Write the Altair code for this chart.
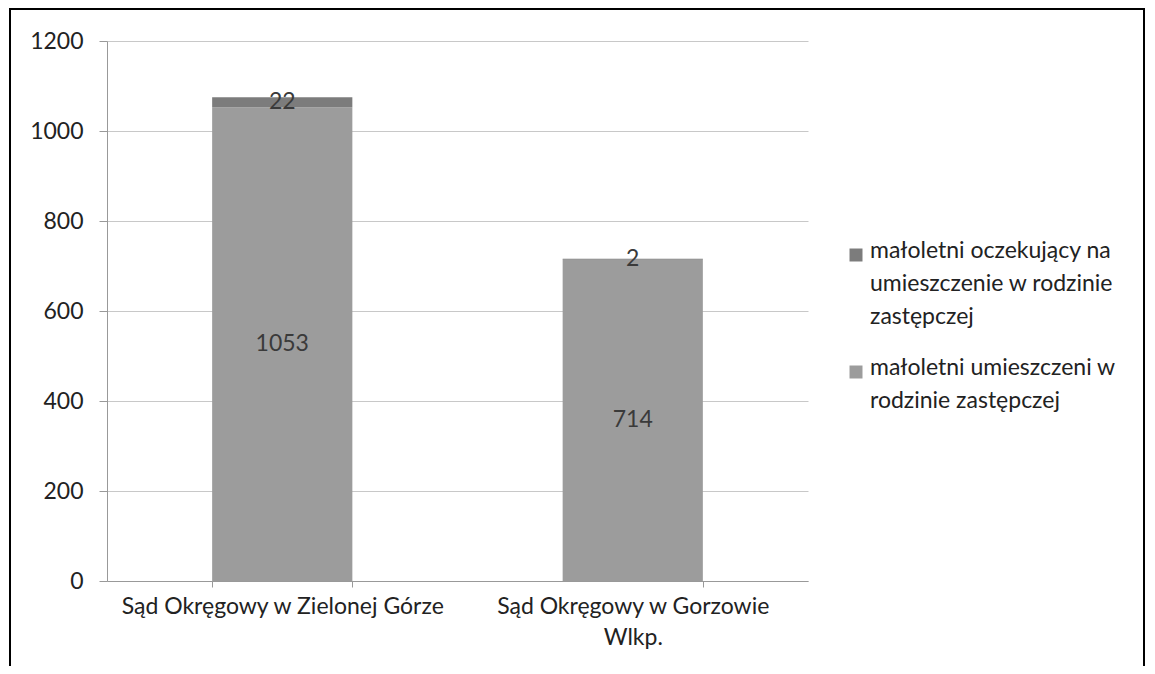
import altair as alt
import pandas as pd

courts = ["Sąd Okręgowy w Zielonej Górze", "Sąd Okręgowy w Gorzowie Wlkp."]
series = ["małoletni oczekujący na umieszczenie w rodzinie zastępczej",
          "małoletni umieszczeni w rodzinie zastępczej"]
series_lines = [["małoletni oczekujący na", "umieszczenie w rodzinie", "zastępczej"],
                ["małoletni umieszczeni w", "rodzinie zastępczej"]]
colors = ["#7c7c7c", "#9c9c9c"]
waiting = [22, 2]
placed = [1053, 714]

rows = []
for i, c in enumerate(courts):
    rows.append({"court": c, "series": series[1], "value": placed[i], "ord": 0})
    rows.append({"court": c, "series": series[0], "value": waiting[i], "ord": 1})
df = pd.DataFrame(rows)

FONT = "Lato"
FS = 23

x_enc = alt.X("court:N", sort=courts, title=None,
              scale=alt.Scale(paddingInner=0.6, paddingOuter=0.3),
              axis=alt.Axis(labelAngle=0, labelFontSize=FS, labelColor="#222",
                            labelPadding=8, labelLineHeight=31, labelLimit=500,
                            tickBand="extent", tickColor="#999", tickSize=6,
                            domainColor="#999", grid=False,
                            labelExpr="datum.value == 'Sąd Okręgowy w Gorzowie Wlkp.' ? ['Sąd Okręgowy w Gorzowie', 'Wlkp.'] : datum.label"))

base = alt.Chart(df).transform_stack(
    stack="value", groupby=["court"], sort=[alt.SortField("ord")], as_=["y0", "y1"]
).transform_calculate(mid="(datum.y0 + datum.y1) / 2")

bars = base.mark_bar().encode(
    x=x_enc,
    y=alt.Y("y0:Q", title=None,
            scale=alt.Scale(domain=[0, 1200]),
            axis=alt.Axis(values=[0, 200, 400, 600, 800, 1000, 1200], format="d",
                          labelFontSize=FS, labelColor="#222", labelPadding=16,
                          tickColor="#999", tickSize=8, domainColor="#999",
                          gridColor="#c8c8c8")),
    y2="y1:Q",
    color=alt.Color("series:N", scale=alt.Scale(domain=series, range=colors), legend=None),
)

labels = base.mark_text(fontSize=FS, color="#3a3a3a", font=FONT).encode(
    x=alt.X("court:N", sort=courts),
    y="mid:Q",
    text="value:Q",
)

# manual legend (wrapped labels)
leg_layers = []
sw_y = [214, 331]
tx_y = [217, 334]
for i in range(2):
    leg_layers.append(
        alt.Chart(pd.DataFrame({"s": [series[i]]})).mark_square(size=169, color=colors[i], opacity=1)
        .encode(x=alt.value(749), y=alt.value(sw_y[i]))
    )
    leg_layers.append(
        alt.Chart(pd.DataFrame({"s": [series[i]]})).mark_text(
            text=series_lines[i], align="left", baseline="alphabetic",
            fontSize=FS, lineHeight=33, color="#222", font=FONT)
        .encode(x=alt.value(763), y=alt.value(tx_y[i]))
    )

frame = alt.Chart(pd.DataFrame({"k": [0]})).mark_rect(
    fill=None, stroke="#000", strokeWidth=2
).encode(x=alt.value(-97), x2=alt.value(1037), y=alt.value(-32), y2=alt.value(700))

chart = alt.layer(bars, labels, *leg_layers, frame).properties(
    width=701, height=540,
    autosize=alt.AutoSizeParams(type="none"),
    padding={"left": 99, "top": 33, "right": 339, "bottom": 85},
).configure(font=FONT).configure_view(stroke=None).configure_axis(labelFont=FONT)

chart.save("out.html", embed_options={"renderer": "svg", "actions": False})
